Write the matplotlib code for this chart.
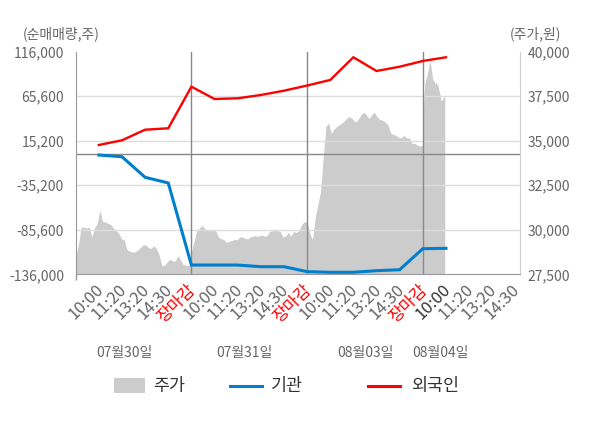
import numpy as np
import matplotlib
matplotlib.use('Agg')
import matplotlib.pyplot as plt
from matplotlib.lines import Line2D
from matplotlib.patches import Rectangle
import matplotlib.transforms as mtransforms

plt.rcParams['font.family'] = ['Noto Sans CJK KR', 'DejaVu Sans']

# ---------------- data ----------------
day_labels = ['07월30일', '07월31일', '08월03일', '08월04일']
time_labels = ['10:00', '11:20', '13:20', '14:30', '장마감']

# net buying (shares) at each time checkpoint (5 per day, last day only 10:00)
foreign = [10400, 15700, 27700, 29300, 76400,
           62450, 63250, 67000, 71850, 77700,
           84000, 109700, 94150, 99000, 105500,
           109700]
institution = [-1000, -2900, -26200, -32600, -125500,
               -125500, -125500, -127400, -127400, -133000,
               -133700, -133700, -131900, -130800, -107000,
               -106600]

# stock price (won) through each day
price_d1 = [28500, 29150, 30150, 30150, 30100, 30150, 29600, 30100, 30350, 31100,
            30450, 30450, 30350, 30300, 30100, 29950, 29800, 29500, 29450, 28900,
            28800, 28750, 28750, 28850, 29000, 29150, 29150, 29000, 28950, 29100,
            28950, 28600, 28000, 28000, 28200, 28350, 28250, 28250, 28550, 28300,
            28050, 28000, 28000, 28000]
price_d2 = [28750, 29350, 29950, 30100, 30250, 30050, 29950, 29950, 29950, 29950,
            29600, 29500, 29450, 29300, 29350, 29400, 29450, 29450, 29600, 29600,
            29500, 29500, 29600, 29650, 29650, 29650, 29700, 29650, 29650, 29900,
            29950, 29950, 29950, 29900, 29600, 29650, 29850, 29650, 29900, 29850,
            29950, 30300, 30450, 30450]
price_d3 = [30450, 29800, 29450, 30650, 31400, 32150, 34100, 35800, 36000, 35400,
            35650, 35800, 35900, 36000, 36150, 36300, 36350, 36200, 36050, 36200,
            36450, 36600, 36450, 36250, 36450, 36600, 36350, 36200, 36150, 36050,
            35900, 35450, 35350, 35300, 35200, 35150, 35300, 35150, 35150, 34850,
            34850, 34750, 34700, 34750]
price_d4 = [34850, 37300, 38200, 38500, 38600, 38900, 39150, 39500, 39250, 38800,
            38400, 38400, 38200, 38300, 38150, 38150, 37850, 37650, 37300, 37250,
            37400, 37450, 37450]

left_ticks = [116000, 65600, 15200, -35200, -85600, -136000]
right_ticks = [40000, 37500, 35000, 32500, 30000, 27500]

# ---------------- figure ----------------
W, H = 600, 428
fig = plt.figure(figsize=(W / 100, H / 100), dpi=100)
fig.patch.set_facecolor('white')

ax_l, ax_r, ax_t, ax_b = 75.7, 520.0, 51.7, 274.3
ax = fig.add_axes([ax_l / W, 1 - ax_b / H, (ax_r - ax_l) / W, (ax_b - ax_t) / H])
ax2 = ax.twinx()
ax.set_zorder(2)
ax2.set_zorder(1)
ax.patch.set_visible(False)
ax2.patch.set_facecolor('#f5f5f5')

xmax = 3.84
ax.set_xlim(0, xmax)
ax.set_ylim(left_ticks[-1], left_ticks[0])
ax2.set_ylim(right_ticks[-1], right_ticks[0])

# price area (right axis)
prices = [price_d1, price_d2, price_d3, price_d4]
spans = [1.0, 1.0, 1.0, 0.19]
for d, (p, s) in enumerate(zip(prices, spans)):
    xs = np.linspace(d, d + s, len(p))
    ax2.fill_between(xs, right_ticks[-1], p, color='#cccccc', lw=0)

# grid lines
for v in left_ticks[1:-1]:
    ax.axhline(v, color='#dddddd', lw=1, zorder=1)
ax.axhline(0, color='#888888', lw=1, zorder=1)
for d in [1, 2, 3]:
    ax.axvline(d, color='#888888', lw=1, zorder=1)

# lines (left axis)
line_x = [i // 5 + 0.2 * (i % 5 + 1) for i in range(len(foreign))]
ax.plot(line_x, institution, color='#0080cc', lw=2.2, zorder=3, solid_joinstyle='miter')
ax.plot(line_x, foreign, color='#ff0000', lw=1.7, zorder=4, solid_joinstyle='miter')

# spines
for s in ['top', 'right']:
    ax.spines[s].set_visible(False)
ax.spines['left'].set_color('#999999')
ax.spines['bottom'].set_color('#999999')
for s in ['top', 'left', 'bottom']:
    ax2.spines[s].set_visible(False)
ax2.spines['right'].set_color('#d0d0d0')

# y ticks
ax.set_yticks(left_ticks)
ax.set_yticklabels([f'{v:,}' for v in left_ticks])
ax.tick_params(axis='y', length=0, pad=8.4, labelsize=10, labelcolor='#666666')
ax2.set_yticks(right_ticks)
ax2.set_yticklabels([f'{v:,}' for v in right_ticks])
ax2.tick_params(axis='y', length=0, pad=5.3, labelsize=10, labelcolor='#666666')

# x ticks
tick_pos, tick_txt, tick_col = [], [], []
for d in range(4):
    for k, t in enumerate(time_labels):
        x = d + 0.2 * (k + 1)
        if x > xmax:
            continue
        tick_pos.append(x)
        tick_txt.append(t)
        if t == '장마감':
            tick_col.append('#ff0000')
        elif d == 3 and k == 0:
            tick_col.append('#333333')
        else:
            tick_col.append('#666666')
ax.set_xticks(tick_pos)
ax.set_xticklabels(tick_txt, rotation=45, ha='right', va='top')
ax.tick_params(axis='x', length=0, pad=5, labelsize=12)
off = mtransforms.ScaledTranslation(8 / 100, 0, fig.dpi_scale_trans)
for lbl, c in zip(ax.get_xticklabels(), tick_col):
    lbl.set_color(c)
    lbl.set_transform(lbl.get_transform() + off)
ax.set_xticks([0, 1, 2, 3], minor=True)
ax.tick_params(axis='x', which='minor', length=4, color='#999999', width=1)
ax2.tick_params(axis='x', length=0)

# date labels
date_px = [124.7, 244.3, 365.0, 440.7]
for lab, px in zip(day_labels, date_px):
    fig.text(px / W, 1 - 353 / H, lab, ha='center', va='center', fontsize=10, color='#666666')

# axis titles
fig.text(22.7 / W, 1 - 34 / H, '(순매매량,주)', ha='left', va='center', fontsize=10, color='#666666')
fig.text(509.3 / W, 1 - 34 / H, '(주가,원)', ha='left', va='center', fontsize=10, color='#666666')

# legend
ly = 1 - 386 / H
fig.add_artist(Rectangle((114 / W, 1 - 393.3 / H), 31 / W, 15 / H, transform=fig.transFigure,
                         facecolor='#cccccc', edgecolor='none'))
fig.text(153 / W, ly, '주가', ha='left', va='center', fontsize=12.5, color='#333333')
fig.add_artist(Line2D([230 / W, 262 / W], [ly, ly], transform=fig.transFigure, color='#0080cc', lw=2.2))
fig.text(270.7 / W, ly, '기관', ha='left', va='center', fontsize=12.5, color='#333333')
fig.add_artist(Line2D([368 / W, 400 / W], [ly, ly], transform=fig.transFigure, color='#ff0000', lw=2.2))
fig.text(410.7 / W, ly, '외국인', ha='left', va='center', fontsize=12.5, color='#333333')

fig.savefig('out.png', dpi=100, facecolor='white')
